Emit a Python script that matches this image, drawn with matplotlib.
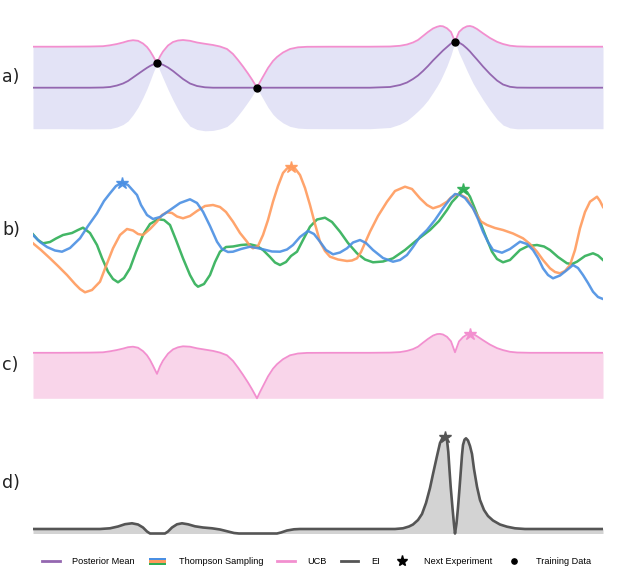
import numpy as np
import matplotlib
matplotlib.use("Agg")
import matplotlib.pyplot as plt
from matplotlib.lines import Line2D
from matplotlib.patches import Rectangle
from matplotlib.legend_handler import HandlerBase

# ---------------- data ----------------
# a) GP posterior (mean and std) on a shared grid
x_gp = [0, 0.27, 0.57, 0.70, 0.77, 0.84, 0.90, 0.95, 1.00, 1.05,
        1.10, 1.14, 1.17, 1.20, 1.24, 1.27, 1.30, 1.35, 1.40, 1.45,
        1.50, 1.57, 1.64, 1.72, 1.80, 1.87, 1.94, 2.00, 2.05, 2.10,
        2.15, 2.19, 2.24, 2.27, 2.31, 2.35, 2.40, 2.44, 2.50, 2.57,
        2.65, 2.74, 2.97, 3.37, 3.57, 3.67, 3.74, 3.80, 3.85, 3.90,
        3.95, 4.00, 4.04, 4.07, 4.10, 4.14, 4.18, 4.22, 4.26, 4.30,
        4.34, 4.37, 4.40, 4.44, 4.50, 4.57, 4.64, 4.70, 4.77, 4.84,
        4.97, 5.27, 5.70]
post_mean = [0, 0, 0, 0.02, 0.07, 0.22, 0.42, 0.67, 1.02, 1.37,
             1.72, 1.99, 2.17, 2.32, 2.44, 2.39, 2.29, 2.02, 1.67, 1.27,
             0.87, 0.42, 0.17, 0.04, 0, 0, 0, 0, 0, 0,
             0, 0, 0, 0, 0, 0, 0, 0, 0, 0,
             0, 0, 0, 0, 0.07, 0.27, 0.52, 0.87, 1.22, 1.67,
             2.17, 2.72, 3.12, 3.42, 3.72, 4.07, 4.42, 4.60, 4.52, 4.27,
             3.92, 3.62, 3.27, 2.82, 2.12, 1.37, 0.72, 0.32, 0.09, 0.01,
             0, 0, 0]
post_std = [4.10, 4.10, 4.12, 4.13, 4.17, 4.15, 4.10, 4.00, 3.73, 3.32,
            2.70, 2.08, 1.50, 0.85, 0.00, 0.73, 1.33, 2.20, 2.90, 3.45,
            3.90, 4.27, 4.35, 4.35, 4.27, 4.12, 3.87, 3.37, 2.77, 2.12,
            1.42, 0.82, 0.00, 0.57, 1.27, 1.97, 2.67, 3.07, 3.52, 3.87,
            4.04, 4.09, 4.10, 4.10, 4.05, 3.92, 3.80, 3.65, 3.55, 3.50,
            3.40, 3.20, 2.97, 2.75, 2.42, 1.87, 1.15, 0.00, 1.05, 1.67,
            2.22, 2.55, 2.82, 3.05, 3.32, 3.60, 3.87, 4.05, 4.11, 4.12,
            4.10, 4.10, 4.10]
# c) UCB acquisition on the same grid
ucb_acq = [4.55, 4.55, 4.57, 4.60, 4.70, 4.83, 4.97, 5.11, 5.16, 5.06,
           4.72, 4.30, 3.84, 3.26, 2.44, 3.20, 3.77, 4.46, 4.89, 5.10,
           5.20, 5.16, 5.00, 4.87, 4.74, 4.57, 4.30, 3.74, 3.07, 2.35,
           1.58, 0.91, 0.00, 0.63, 1.41, 2.19, 2.96, 3.41, 3.91, 4.30,
           4.48, 4.54, 4.55, 4.55, 4.57, 4.62, 4.74, 4.92, 5.16, 5.56,
           5.94, 6.27, 6.42, 6.44, 6.38, 6.15, 5.70, 4.60, 5.69, 6.12,
           6.38, 6.47, 6.45, 6.21, 5.81, 5.37, 5.02, 4.82, 4.65, 4.58,
           4.55, 4.55, 4.55]

x_train = [1.24, 2.24, 4.22]
y_train = [2.44, 0.0, 4.60]

# b) Thompson samples
x_blue = [0.00, 0.07, 0.14, 0.22, 0.29, 0.37, 0.47, 0.55, 0.64, 0.71,
          0.77, 0.83, 0.89, 0.95, 1.04, 1.08, 1.14, 1.20, 1.27, 1.37,
          1.47, 1.57, 1.64, 1.70, 1.77, 1.84, 1.89, 1.95, 2.00, 2.08,
          2.17, 2.24, 2.30, 2.39, 2.47, 2.54, 2.60, 2.67, 2.75, 2.81,
          2.87, 2.93, 3.00, 3.07, 3.14, 3.20, 3.27, 3.33, 3.40, 3.50,
          3.60, 3.67, 3.74, 3.80, 3.87, 3.94, 4.02, 4.10, 4.17, 4.22,
          4.27, 4.32, 4.40, 4.45, 4.50, 4.55, 4.60, 4.69, 4.77, 4.87,
          4.94, 5.00, 5.05, 5.10, 5.15, 5.20, 5.27, 5.34, 5.40, 5.45,
          5.50, 5.55, 5.60, 5.65, 5.70]
y_blue = [1.50, 0.80, 0.30, -0.05, -0.17, 0.20, 1.17, 2.40, 3.67, 4.90,
          5.67, 6.40, 6.73, 6.50, 5.50, 4.50, 3.50, 3.10, 3.30, 4.00,
          4.70, 5.07, 4.70, 3.83, 2.40, 0.83, 0.10, -0.20, -0.17, 0.10,
          0.33, 0.20, 0.07, -0.15, -0.17, 0.05, 0.50, 1.30, 1.90, 1.60,
          0.83, 0.00, -0.43, -0.25, 0.17, 0.75, 1.00, 0.70, 0.00, -0.80,
          -1.17, -1.00, -0.50, 0.30, 1.33, 2.00, 3.00, 4.17, 5.10, 5.60,
          5.50, 5.20, 4.17, 3.10, 1.83, 0.80, 0.00, -0.27, 0.10, 0.83,
          0.60, 0.00, -0.80, -1.83, -2.50, -2.83, -2.55, -2.00, -1.50, -1.80,
          -2.50, -3.30, -4.17, -4.70, -4.90]
x_orange = [0.00, 0.08, 0.17, 0.25, 0.34, 0.42, 0.47, 0.52, 0.59, 0.67,
            0.73, 0.80, 0.87, 0.94, 1.00, 1.05, 1.10, 1.17, 1.24, 1.29,
            1.34, 1.39, 1.44, 1.50, 1.57, 1.64, 1.72, 1.80, 1.87, 1.93,
            2.00, 2.07, 2.14, 2.17, 2.20, 2.25, 2.30, 2.35, 2.40, 2.45,
            2.50, 2.54, 2.58, 2.62, 2.67, 2.72, 2.77, 2.82, 2.87, 2.92,
            2.97, 3.05, 3.14, 3.19, 3.24, 3.28, 3.32, 3.37, 3.45, 3.54,
            3.62, 3.72, 3.79, 3.87, 3.94, 4.00, 4.07, 4.14, 4.18, 4.24,
            4.28, 4.34, 4.38, 4.44, 4.48, 4.54, 4.62, 4.70, 4.80, 4.90,
            4.97, 5.04, 5.10, 5.17, 5.22, 5.27, 5.32, 5.37, 5.42, 5.47,
            5.52, 5.57, 5.64, 5.67, 5.70]
y_orange = [0.67, 0.00, -0.83, -1.60, -2.50, -3.40, -3.90, -4.23, -4.00, -3.17,
            -1.60, 0.17, 1.50, 2.10, 1.95, 1.60, 1.50, 2.10, 2.83, 3.50,
            3.77, 3.70, 3.35, 3.17, 3.40, 3.90, 4.40, 4.50, 4.30, 3.80,
            2.83, 1.70, 0.83, 0.40, 0.17, 0.40, 1.50, 3.00, 4.83, 6.40,
            7.70, 8.15, 8.33, 8.15, 7.50, 6.20, 4.50, 2.60, 0.83, -0.10,
            -0.67, -0.95, -1.10, -1.05, -0.83, -0.20, 0.70, 1.83, 3.40, 4.83,
            5.90, 6.33, 6.10, 5.17, 4.50, 4.17, 4.40, 4.83, 5.25, 5.57,
            5.50, 5.17, 4.50, 3.50, 2.85, 2.50, 2.20, 2.00, 1.65, 1.17,
            0.60, -0.17, -1.00, -1.83, -2.20, -2.33, -2.10, -1.50, 0.00, 2.17,
            3.80, 4.83, 5.33, 4.90, 4.30]
x_green = [0.00, 0.05, 0.10, 0.17, 0.23, 0.30, 0.39, 0.45, 0.50, 0.57,
           0.64, 0.69, 0.75, 0.80, 0.85, 0.91, 0.97, 1.03, 1.10, 1.17,
           1.25, 1.31, 1.37, 1.43, 1.50, 1.57, 1.62, 1.65, 1.71, 1.77,
           1.82, 1.87, 1.93, 2.00, 2.08, 2.17, 2.24, 2.30, 2.37, 2.42,
           2.47, 2.53, 2.58, 2.64, 2.70, 2.77, 2.84, 2.92, 2.99, 3.07,
           3.15, 3.24, 3.32, 3.40, 3.50, 3.60, 3.72, 3.84, 3.97, 4.06,
           4.14, 4.19, 4.24, 4.27, 4.30, 4.34, 4.37, 4.42, 4.47, 4.53,
           4.59, 4.64, 4.70, 4.77, 4.87, 4.95, 5.04, 5.11, 5.17, 5.25,
           5.34, 5.39, 5.44, 5.52, 5.60, 5.65, 5.70]
y_green = [1.57, 1.00, 0.67, 0.80, 1.15, 1.50, 1.70, 2.00, 2.23, 1.70,
           0.50, -0.80, -2.17, -2.90, -3.23, -2.80, -1.83, -0.20, 1.50, 2.60,
           3.07, 3.00, 2.50, 1.00, -0.83, -2.50, -3.40, -3.67, -3.40, -2.50,
           -1.20, -0.17, 0.30, 0.35, 0.50, 0.57, 0.40, 0.00, -0.70, -1.25,
           -1.50, -1.20, -0.60, -0.17, 1.00, 2.33, 3.05, 3.23, 2.80, 1.83,
           0.70, -0.33, -0.95, -1.23, -1.15, -0.83, 0.00, 1.00, 2.00, 2.90,
           4.00, 4.80, 5.33, 5.80, 6.07, 5.80, 5.33, 4.10, 2.83, 1.30,
           -0.17, -0.90, -1.23, -1.00, 0.00, 0.40, 0.50, 0.35, 0.00, -0.70,
           -1.33, -1.40, -1.17, -0.60, -0.33, -0.55, -1.00]

# d) Expected improvement
x_ei = [0, 0.67, 0.77, 0.85, 0.92, 0.99, 1.05, 1.10, 1.14, 1.17,
        1.32, 1.35, 1.39, 1.44, 1.49, 1.55, 1.62, 1.70, 1.79, 1.87,
        1.95, 2.01, 2.06, 2.44, 2.48, 2.54, 2.61, 2.67, 3.62, 3.70,
        3.76, 3.80, 3.85, 3.89, 3.93, 3.97, 4.00, 4.04, 4.07, 4.095,
        4.12, 4.14, 4.153, 4.165, 4.177, 4.195, 4.21, 4.22, 4.235, 4.25,
        4.265, 4.28, 4.29, 4.30, 4.315, 4.33, 4.35, 4.37, 4.39, 4.41,
        4.44, 4.47, 4.51, 4.55, 4.60, 4.67, 4.74, 4.82, 4.92, 5.70]
ei = [0.45, 0.45, 0.52, 0.70, 0.93, 1.02, 0.90, 0.60, 0.20, 0,
      0, 0.20, 0.60, 0.92, 1.02, 0.92, 0.72, 0.60, 0.52, 0.40,
      0.20, 0.05, 0, 0, 0.10, 0.30, 0.42, 0.45, 0.45, 0.52,
      0.70, 0.90, 1.35, 1.95, 3.05, 4.55, 5.95, 7.75, 9.05, 9.55,
      9.68, 9.35, 8.15, 6.35, 4.65, 2.55, 0.90, 0, 1.00, 2.60,
      4.50, 6.50, 7.85, 8.85, 9.38, 9.52, 9.30, 8.75, 7.95, 6.45,
      4.68, 3.35, 2.35, 1.75, 1.30, 0.90, 0.68, 0.52, 0.45, 0.45]

panel_labels = ["a)", "b)", "c)", "d)"]
legend_labels = ["Posterior Mean", "Thompson Sampling", "UCB", "EI",
                 "Next Experiment", "Training Data"]

# ---------------- style ----------------
C_MEAN = "#9467b0"
C_UCB = "#f28fcf"
C_BAND = "#e3e3f6"
C_CFILL = "#f9d5ea"
C_BLUE = "#4a8fe3"
C_ORANGE = "#ff9a5c"
C_GREEN = "#2eae55"
C_EI = "#555555"
C_EIFILL = "#d3d3d3"

W, H = 633, 567
fig = plt.figure(figsize=(W / 100, H / 100), dpi=100)


def place(top, bot):
    return [33 / W, 1 - bot / H, 570 / W, (bot - top) / H]


def setup(ax, ylo, yhi):
    ax.set_xlim(0, 5.70)
    ax.set_ylim(ylo, yhi)
    ax.axis("off")


xg = np.array(x_gp)
mu = np.array(post_mean)
sd = np.array(post_std)

# a)
ax_a = fig.add_axes(place(20, 135))
setup(ax_a, -4.73, 6.77)
ax_a.fill_between(xg, mu - sd, mu + sd, color=C_BAND, lw=0)
ax_a.plot(xg, mu + sd, color=C_UCB, lw=1.3)
ax_a.plot(xg, mu, color=C_MEAN, lw=1.3)
ax_a.plot(x_train, y_train, "o", color="black", ms=5, zorder=5)

# b)
ax_b = fig.add_axes(place(155, 305))
setup(ax_b, -5.5, 9.5)
for xs, ys, c in [(x_green, y_green, C_GREEN), (x_orange, y_orange, C_ORANGE),
                  (x_blue, y_blue, C_BLUE)]:
    xs = np.array(xs)
    ys = np.array(ys)
    ax_b.plot(xs, ys, color=c, lw=1.8, alpha=0.9, solid_joinstyle="round")
    k = int(np.argmax(ys))
    ax_b.plot(xs[k], ys[k], marker="*", color=c, ms=9, alpha=0.9, zorder=5)

# c)
uc = np.array(ucb_acq)
ax_c = fig.add_axes(place(325, 405))
setup(ax_c, -0.67, 7.33)
ax_c.fill_between(xg, 0, uc, color=C_CFILL, lw=0)
ax_c.plot(xg, uc, color=C_UCB, lw=1.3)
k = int(np.argmax(uc))
ax_c.plot(xg[k], uc[k], marker="*", color=C_UCB, ms=9, zorder=5)

# d)
xe = np.array(x_ei)
ye = np.array(ei)
ax_d = fig.add_axes(place(425, 540))
setup(ax_d, -0.65, 10.85)
ax_d.fill_between(xe, 0, ye, color=C_EIFILL, lw=0)
ax_d.plot(xe, ye, color=C_EI, lw=1.9)
k = int(np.argmax(ye))
ax_d.plot(xe[k], ye[k], marker="*", color=C_EI, ms=9, zorder=5)

# panel labels
for ax, lab in zip([ax_a, ax_b, ax_c, ax_d], panel_labels):
    ax.text(-31 / 570, 0.5, lab, transform=ax.transAxes,
            fontsize=12.5, color="#222222", ha="left", va="center",
            family="DejaVu Sans")


# legend
class StripeHandler(HandlerBase):
    def create_artists(self, legend, orig_handle, xdescent, ydescent,
                       width, height, fontsize, trans):
        cols = [C_GREEN, C_ORANGE, C_BLUE]
        arts = []
        h = height / 3.0
        for i, c in enumerate(cols):
            r = Rectangle((-xdescent, -ydescent + i * h), width, h,
                          facecolor=c, edgecolor="none", transform=trans)
            arts.append(r)
        return arts


ts_handle = Rectangle((0, 0), 1, 1)
handles = [Line2D([], [], color=C_MEAN, lw=2),
           ts_handle,
           Line2D([], [], color=C_UCB, lw=2),
           Line2D([], [], color=C_EI, lw=2),
           Line2D([], [], marker="*", color="black", lw=0, ms=8),
           Line2D([], [], marker="o", color="black", lw=0, ms=3.8)]
leg = fig.legend(handles, legend_labels, loc="center",
                 bbox_to_anchor=(0.5, 1 - 562 / H), ncol=6, frameon=False,
                 handler_map={ts_handle: StripeHandler()},
                 prop={"family": ["Liberation Sans Narrow", "Liberation Sans"],
                       "size": 6.6},
                 handlelength=1.9, handleheight=0.9, columnspacing=1.5,
                 handletextpad=1.4)

fig.savefig("out.png", dpi=100)
